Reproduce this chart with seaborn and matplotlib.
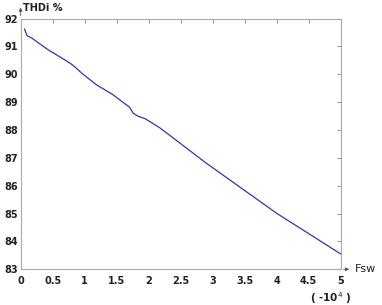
import matplotlib
matplotlib.use("Agg")
import matplotlib.pyplot as plt
import seaborn as sns
import pandas as pd

fsw = [0.06, 0.10, 0.175, 0.43, 0.69, 0.79, 0.87, 0.95, 1.18, 1.44, 1.70, 1.76, 1.83,
       1.95, 2.18, 2.90, 4.0, 5.0]
thdi = [91.63, 91.39, 91.30, 90.88, 90.52, 90.37, 90.22, 90.05, 89.63, 89.27, 88.82,
        88.60, 88.50, 88.40, 88.07, 86.81, 85.01, 83.55]
xticks = [0, 0.5, 1, 1.5, 2, 2.5, 3, 3.5, 4, 4.5, 5]
xticklabels = ["0", "0.5", "1", "1.5", "2", "2.5", "3", "3.5", "4", "4.5", "5"]
yticks = [83, 84, 85, 86, 87, 88, 89, 90, 91, 92]

sns.set_style("white")
plt.rcParams['font.family'] = ['DejaVu Sans']

fig = plt.figure(figsize=(3.82, 3.05), dpi=100)
ax = fig.add_axes([0.054, 0.117, 0.838, 0.822])
df = pd.DataFrame({"Fsw": fsw, "THDi": thdi})
sns.lineplot(data=df, x="Fsw", y="THDi", ax=ax, color="#3535a8", linewidth=0.9)

ax.set_xlim(0, 5)
ax.set_ylim(83, 92)
ax.set_xticks(xticks)
ax.set_xticklabels(xticklabels)
ax.set_yticks(yticks)
ax.set_xlabel("")
ax.set_ylabel("")
ax.tick_params(direction="in", length=3, color="#999999", top=True, right=True,
               labelsize=7, labelcolor="#222222")
ax.tick_params(axis="y", pad=2)
ax.tick_params(axis="x", pad=5)
for lab in ax.get_xticklabels() + ax.get_yticklabels():
    lab.set_fontweight("bold")
for s in ax.spines.values():
    s.set_color("#aaaaaa")
    s.set_linewidth(0.8)

# axis arrows
ax.annotate("", xy=(0, 1.055), xytext=(0, 1.0), xycoords="axes fraction",
            arrowprops=dict(arrowstyle="-|>", color="#555555", lw=0.6, mutation_scale=5))
ax.annotate("", xy=(1.035, 0), xytext=(1.0, 0), xycoords="axes fraction",
            arrowprops=dict(arrowstyle="-|>", color="#555555", lw=0.6, mutation_scale=5))
fig.text(0.06, 0.99, "THDi %", fontsize=7, ha="left", va="top", color="#222222",
         fontweight="bold")
fig.text(0.93, 0.117, "Fsw", fontsize=8, ha="left", va="center", color="#222222")
fig.text(0.865, 0.022, "( -10$^{4}$ )", fontsize=7.5, ha="center", va="center",
         color="#222222", fontweight="bold")

fig.savefig("out.png", dpi=100)
